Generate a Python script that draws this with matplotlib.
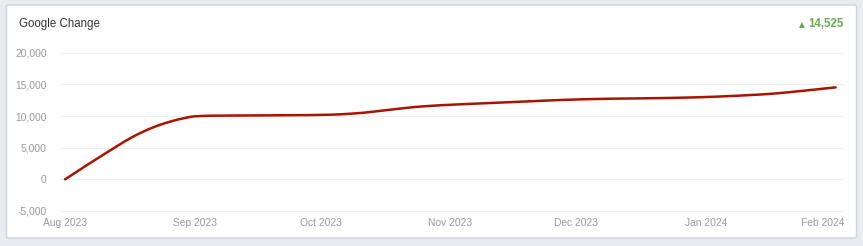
import matplotlib
matplotlib.use('Agg')
import matplotlib.pyplot as plt
import matplotlib.dates as mdates
import matplotlib.transforms as mtransforms
from matplotlib.patches import FancyBboxPatch
import numpy as np
import pandas as pd

# Data (roughly weekly points)
dates = ['2023-08-01', '2023-08-04', '2023-08-08', '2023-08-11', '2023-08-15',
         '2023-08-18', '2023-08-22', '2023-08-25', '2023-08-29', '2023-09-01',
         '2023-09-05', '2023-09-12', '2023-09-19', '2023-09-26', '2023-10-03',
         '2023-10-10', '2023-10-17', '2023-10-24', '2023-10-31', '2023-11-07',
         '2023-11-14', '2023-11-21', '2023-11-28', '2023-12-05', '2023-12-12',
         '2023-12-19', '2023-12-26', '2024-01-02', '2024-01-09', '2024-01-16',
         '2024-01-23', '2024-02-01']
values = [0, 1300, 3000, 4250, 5900,
          7000, 8200, 8900, 9600, 9950,
          10050, 10080, 10100, 10130, 10200,
          10450, 10950, 11450, 11750, 11950,
          12150, 12350, 12550, 12680, 12760,
          12810, 12890, 13020, 13220, 13480,
          13900, 14525]
y_ticks = [-5000, 0, 5000, 10000, 15000, 20000]
x_ticks = ['2023-08-01', '2023-09-01', '2023-10-01', '2023-11-01',
           '2023-12-01', '2024-01-01', '2024-02-01']
title = 'Google Change'
change_label = '14,525'


def monotone_curve(xs, ys, n=20):
    # Fritsch-Carlson monotone cubic, only to draw a smooth line through the points
    xs = np.asarray(xs, dtype=float)
    ys = np.asarray(ys, dtype=float)
    h = np.diff(xs)
    d = np.diff(ys) / h
    m = np.zeros_like(ys)
    m[0], m[-1] = d[0], d[-1]
    for k in range(1, len(xs) - 1):
        if d[k - 1] * d[k] > 0:
            w1 = 2 * h[k] + h[k - 1]
            w2 = h[k] + 2 * h[k - 1]
            m[k] = (w1 + w2) / (w1 / d[k - 1] + w2 / d[k])
    out_x, out_y = [], []
    for k in range(len(xs) - 1):
        t = np.linspace(0, 1, n, endpoint=False)
        h00 = 2 * t**3 - 3 * t**2 + 1
        h10 = t**3 - 2 * t**2 + t
        h01 = -2 * t**3 + 3 * t**2
        h11 = t**3 - t**2
        out_x.append(xs[k] + t * h[k])
        out_y.append(h00 * ys[k] + h10 * h[k] * m[k] + h01 * ys[k + 1] + h11 * h[k] * m[k + 1])
    out_x.append([xs[-1]])
    out_y.append([ys[-1]])
    return np.concatenate(out_x), np.concatenate(out_y)


plt.rcParams['font.family'] = ['Liberation Sans', 'DejaVu Sans']

W, H = 863, 246
fig = plt.figure(figsize=(W / 100, H / 100), dpi=100)
fig.patch.set_facecolor('#e9ebef')

# White card behind the chart
card = FancyBboxPatch((6.5 / W, (H - 238) / H), 850 / W, 233 / H,
                      boxstyle='round,pad=0,rounding_size=0.004',
                      transform=fig.transFigure, facecolor='white',
                      edgecolor='#cfd2d6', linewidth=1.0, zorder=-10)
fig.patches.append(card)

# Plot area
left, right = 60, 844
top, bottom = 52.7, 211
ax = fig.add_axes([left / W, (H - bottom) / H, (right - left) / W, (bottom - top) / H])
ax.set_facecolor('none')
ax.set_zorder(1)

x_num = mdates.date2num(pd.to_datetime(dates))
sx, sy = monotone_curve(x_num, values)
ax.plot(mdates.num2date(sx), sy, color='#a81400', linewidth=1.8,
        solid_joinstyle='round', solid_capstyle='round', zorder=3)

ax.set_ylim(-5000, 20000)
ax.set_yticks(y_ticks)
ax.set_yticklabels([f'{v:,}' for v in y_ticks])
ax.set_xlim(pd.Timestamp('2023-08-01') - pd.Timedelta(hours=29),
            pd.Timestamp('2024-02-01') + pd.Timedelta(hours=48))
ax.set_xticks(pd.to_datetime(x_ticks))
ax.xaxis.set_major_formatter(mdates.DateFormatter('%b %Y'))

ax.grid(axis='y', color='#eeeeee', linewidth=0.8)
ax.grid(axis='x', visible=False)
for gl in ax.get_ygridlines():
    gl.set_clip_on(False)
for s in ax.spines.values():
    s.set_visible(False)
ax.tick_params(axis='both', length=0, labelsize=7.4, labelcolor='#999999')
ax.tick_params(axis='y', pad=9.5)
ax.tick_params(axis='x', pad=5)

# Keep the last x label inside the card
last = ax.get_xticklabels()[-1]
last.set_transform(last.get_transform() +
                   mtransforms.ScaledTranslation(-13 / 100, 0, fig.dpi_scale_trans))

fig.text(19 / W, (H - 24) / H, title, fontsize=8.3, color='#333333',
         ha='left', va='center')
fig.text(844 / W, (H - 24) / H, change_label, fontsize=8.3, color='#6aa84f',
         fontweight='bold', ha='right', va='center')
fig.text(805 / W, (H - 25) / H, '\u25b2', fontsize=5.5, color='#6aa84f',
         ha='right', va='center', family=['DejaVu Sans'])

fig.savefig('out.png', dpi=100, facecolor=fig.get_facecolor())
